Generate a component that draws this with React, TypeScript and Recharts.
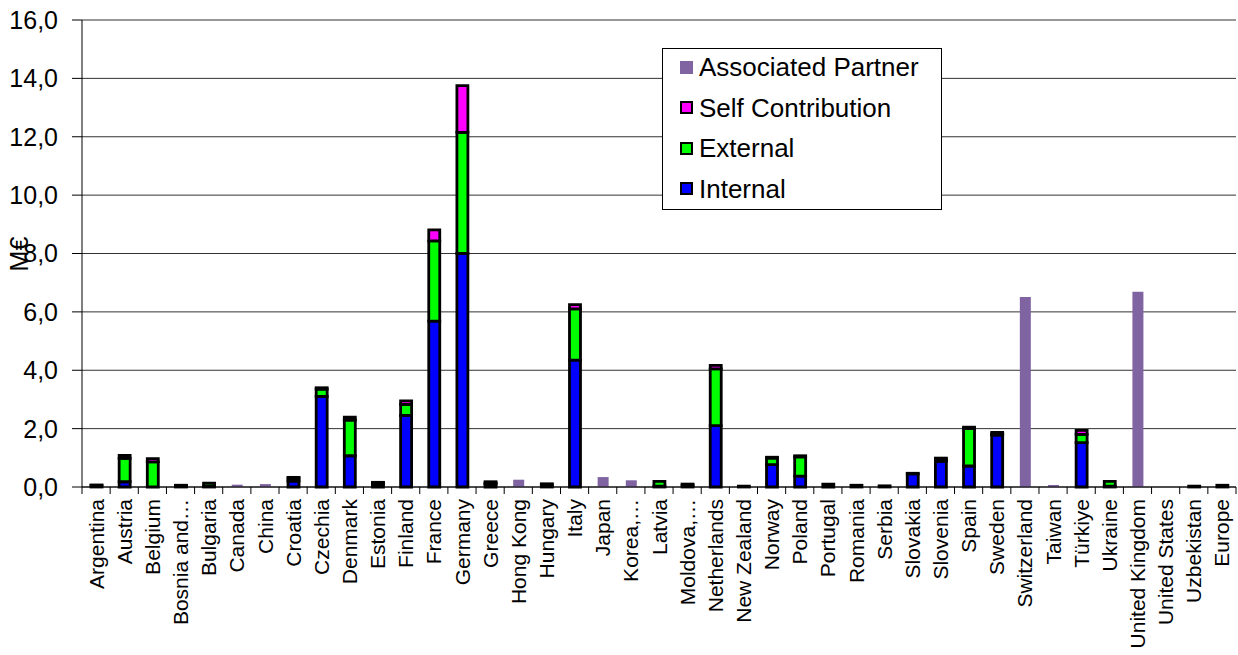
import React from 'react';
import { BarChart, Bar, XAxis, YAxis, CartesianGrid, Legend } from 'recharts';

const categories = [
  'Argentina', 'Austria', 'Belgium', 'Bosnia and…', 'Bulgaria', 'Canada', 'China', 'Croatia',
  'Czechia', 'Denmark', 'Estonia', 'Finland', 'France', 'Germany', 'Greece', 'Hong Kong',
  'Hungary', 'Italy', 'Japan', 'Korea,…', 'Latvia', 'Moldova,…', 'Netherlands', 'New Zealand',
  'Norway', 'Poland', 'Portugal', 'Romania', 'Serbia', 'Slovakia', 'Slovenia', 'Spain',
  'Sweden', 'Switzerland', 'Taiwan', 'Türkiye', 'Ukraine', 'United Kingdom', 'United States',
  'Uzbekistan', 'Europe',
];

const internal = [
  0.05, 0.18, 0, 0.04, 0.03, 0, 0, 0.2,
  3.1, 1.07, 0.1, 2.45, 5.68, 8.0, 0.1, 0,
  0.08, 4.35, 0, 0, 0.03, 0.06, 2.1, 0.03,
  0.77, 0.37, 0.1, 0.06, 0.04, 0.45, 0.88, 0.72,
  1.78, 0, 0, 1.52, 0.03, 0, 0,
  0.03, 0.06,
];

const external = [
  0.02, 0.8, 0.86, 0.02, 0.1, 0, 0, 0.1,
  0.25, 1.22, 0.04, 0.38, 2.75, 4.15, 0.03, 0,
  0.03, 1.75, 0, 0, 0.16, 0.04, 1.95, 0,
  0.22, 0.66, 0, 0, 0, 0.02, 0.07, 1.28,
  0.04, 0, 0, 0.28, 0.16, 0, 0,
  0, 0,
];

const selfContribution = [
  0, 0.1, 0.11, 0, 0, 0, 0, 0.03,
  0.05, 0.1, 0.02, 0.12, 0.38, 1.6, 0.05, 0,
  0, 0.15, 0, 0, 0, 0, 0.12, 0,
  0.03, 0.04, 0, 0, 0, 0, 0.04, 0.05,
  0.05, 0, 0, 0.14, 0, 0, 0,
  0, 0,
];

const associatedPartner = [
  0, 0, 0, 0, 0, 0.08, 0.1, 0,
  0, 0, 0, 0, 0, 0, 0, 0.25,
  0, 0, 0.34, 0.23, 0, 0, 0, 0,
  0, 0, 0, 0, 0, 0, 0, 0,
  0, 6.51, 0.07, 0, 0, 6.69, 0,
  0, 0,
];

const yTicks = [0, 2, 4, 6, 8, 10, 12, 14, 16];

const seriesNames = ['Internal', 'External', 'Self Contribution', 'Associated Partner'];
const seriesKeys = ['internal', 'external', 'self', 'associated'];
const seriesColors = ['#0000FF', '#00FF00', '#FF00FF', '#8064A2'];

const data = categories.map((name, i) => ({
  name,
  internal: internal[i],
  external: external[i],
  self: selfContribution[i],
  associated: associatedPartner[i],
}));

const WIDTH = 1238;
const HEIGHT = 655;
const MARGIN = { top: 20, right: 2, bottom: 0, left: 0 };
const Y_AXIS_W = 82;
const X_AXIS_H = 168;
const PLOT_W = WIDTH - MARGIN.left - MARGIN.right - Y_AXIS_W;
const AXIS_Y = HEIGHT - MARGIN.bottom - X_AXIS_H;
const FONT = '"Liberation Sans", Arial, sans-serif';

const XTick = (props: any) => {
  const { x, payload, index } = props;
  const step = PLOT_W / categories.length;
  const isLast = index === categories.length - 1;
  return (
    <g>
      <line x1={x - step / 2} y1={AXIS_Y} x2={x - step / 2} y2={AXIS_Y + 7} stroke="#000" strokeWidth={1} />
      {isLast && (
        <line x1={x + step / 2} y1={AXIS_Y} x2={x + step / 2} y2={AXIS_Y + 7} stroke="#000" strokeWidth={1} />
      )}
      <text
        transform={`translate(${x},${AXIS_Y + 12}) rotate(-90)`}
        textAnchor="end"
        dy="0.36em"
        fontSize={21}
        fontFamily={FONT}
        fill="#000"
      >
        {payload.value}
      </text>
    </g>
  );
};

const renderLegend = () => {
  const order = [3, 2, 1, 0];
  return (
    <div
      style={{
        position: 'relative',
        width: 280,
        height: 162,
        boxSizing: 'border-box',
        border: '1px solid #000',
        background: '#fff',
        fontFamily: FONT,
      }}
    >
      {order.map((i, row) => (
        <div
          key={seriesKeys[i]}
          style={{
            position: 'absolute',
            left: 17,
            top: 18 + row * 40.5,
            transform: 'translateY(-50%)',
            display: 'flex',
            alignItems: 'center',
            whiteSpace: 'nowrap',
          }}
        >
          <span
            style={{
              display: 'inline-block',
              width: 13,
              height: 13,
              boxSizing: 'border-box',
              background: seriesColors[i],
              border: i === 3 ? 'none' : '2px solid #000',
              marginRight: 6,
            }}
          />
          <span style={{ fontSize: 26, color: '#000', lineHeight: '30px' }}>{seriesNames[i]}</span>
        </div>
      ))}
    </div>
  );
};

const YLabel = () => (
  <text
    x={19}
    y={254}
    transform="rotate(-90 19 254)"
    textAnchor="middle"
    dominantBaseline="central"
    fontSize={25}
    fontFamily={FONT}
    fill="#000"
  >
    M€
  </text>
);

export default function App() {
  return (
    <div style={{ position: 'absolute', left: 0, top: 0, width: WIDTH, height: HEIGHT, background: '#fff' }}>
      <BarChart width={WIDTH} height={HEIGHT} data={data} margin={MARGIN} barSize={11}>
        <CartesianGrid vertical={false} stroke="#333" strokeWidth={1} />
        <XAxis
          dataKey="name"
          height={X_AXIS_H}
          interval={0}
          tickLine={false}
          axisLine={{ stroke: '#000', strokeWidth: 1 }}
          tick={<XTick />}
        />
        <YAxis
          width={Y_AXIS_W}
          domain={[0, 16]}
          ticks={yTicks}
          interval={0}
          tickSize={10}
          tickMargin={14}
          tickLine={{ stroke: '#000' }}
          axisLine={{ stroke: '#000', strokeWidth: 1 }}
          tick={{ fontSize: 25, fill: '#000', fontFamily: FONT }}
          tickFormatter={(v: number) => v.toFixed(1).replace('.', ',')}
          label={<YLabel />}
        />
        <Legend
          layout="vertical"
          align="center"
          verticalAlign="middle"
          wrapperStyle={{ left: 662, top: 48, width: 280, height: 162 }}
          content={renderLegend}
        />
        {seriesKeys.map((k, i) => (
          <Bar
            key={k}
            dataKey={k}
            name={seriesNames[i]}
            stackId="a"
            fill={seriesColors[i]}
            stroke={i === 3 ? 'none' : '#000'}
            strokeWidth={i === 3 ? 0 : 2.8}
            isAnimationActive={false}
          />
        ))}
      </BarChart>
    </div>
  );
}
